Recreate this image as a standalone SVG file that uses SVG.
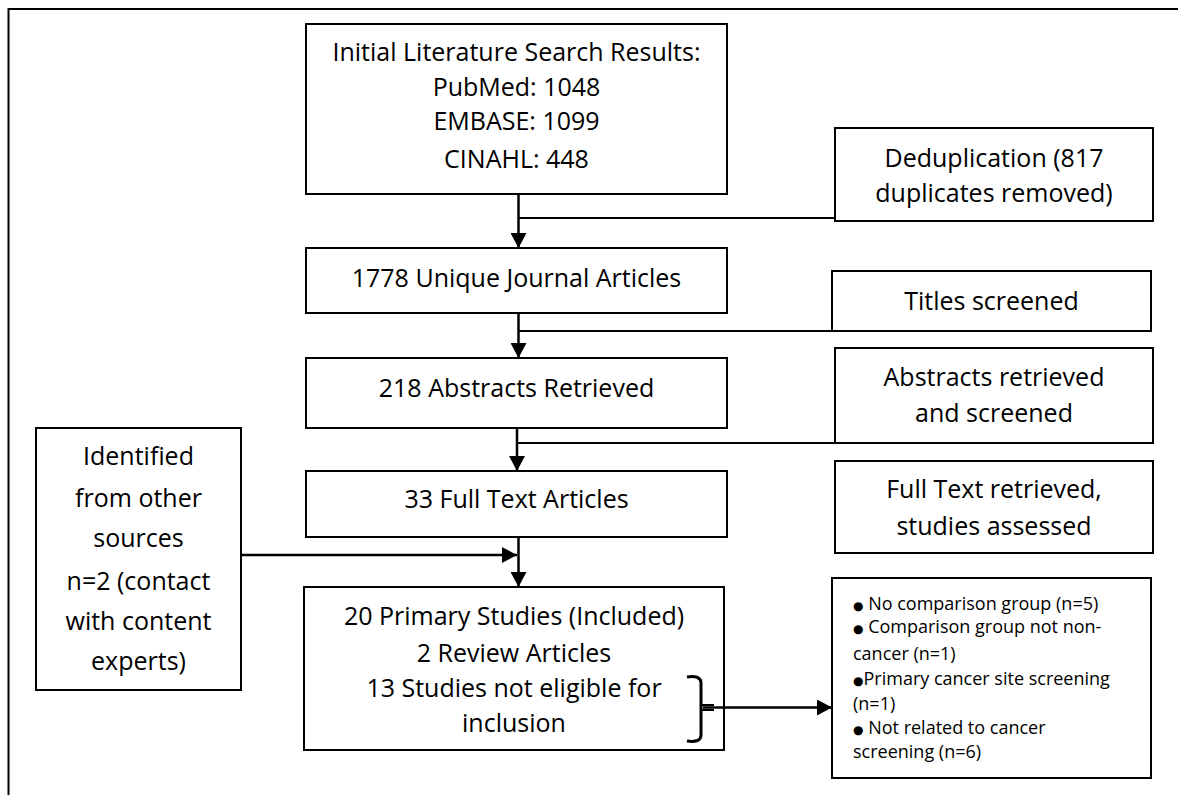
<svg xmlns="http://www.w3.org/2000/svg" width="1178" height="795" viewBox="0 0 1178 795">
<style>
.box{fill:#fff;stroke:#000;stroke-width:2}
.t{font-family:"Open Sans","Liberation Sans",sans-serif;font-size:25px;fill:#000;text-anchor:middle}
.s{font-family:"Open Sans","Liberation Sans",sans-serif;font-size:18px;fill:#000}
.b{font-family:"DejaVu Sans",sans-serif;font-size:12px}
.ln{fill:none;stroke:#000;stroke-width:2}
.ar{fill:none;stroke:#000;stroke-width:2.5}
</style>
<defs>
<marker id="ah" markerUnits="userSpaceOnUse" markerWidth="16" markerHeight="16" viewBox="0 0 16 16" refX="15" refY="8" orient="auto">
<path d="M0,0 L15,8 L0,16 Z" fill="#000"/>
</marker>
</defs>
<path class="ln" d="M8.5,795 L8.5,9 L1178,9"/>
<g id="n1"><rect class="box" x="306" y="24" width="421" height="170"/>
<text class="t" x="516.5" y="61">Initial Literature Search Results:</text>
<text class="t" x="516.5" y="96">PubMed: 1048</text>
<text class="t" x="516.5" y="130">EMBASE: 1099</text>
<text class="t" x="516.5" y="168">CINAHL: 448</text></g>
<g id="n2"><rect class="box" x="835" y="128" width="318" height="93"/>
<text class="t" x="994" y="167">Deduplication (817</text>
<text class="t" x="994" y="202">duplicates removed)</text></g>
<g id="n3"><rect class="box" x="306" y="248" width="421" height="65"/>
<text class="t" x="516.5" y="287">1778 Unique Journal Articles</text></g>
<g id="n4"><rect class="box" x="832" y="271" width="319" height="60"/>
<text class="t" x="991.5" y="310">Titles screened</text></g>
<g id="n5"><rect class="box" x="306" y="358" width="421" height="70"/>
<text class="t" x="516.5" y="397">218 Abstracts Retrieved</text></g>
<g id="n6"><rect class="box" x="835" y="348" width="318" height="95"/>
<text class="t" x="994" y="386">Abstracts retrieved</text>
<text class="t" x="994" y="422">and screened</text></g>
<g id="n7"><rect class="box" x="306" y="471" width="421" height="66"/>
<text class="t" x="516.5" y="508">33 Full Text Articles</text></g>
<g id="n8"><rect class="box" x="835" y="461" width="318" height="92"/>
<text class="t" x="994" y="498">Full Text retrieved,</text>
<text class="t" x="994" y="535">studies assessed</text></g>
<g id="n9"><rect class="box" x="36" y="428" width="205" height="262"/>
<text class="t" x="138.5" y="465">Identified</text>
<text class="t" x="138.5" y="507">from other</text>
<text class="t" x="138.5" y="547">sources</text>
<text class="t" x="138.5" y="590">n=2 (contact</text>
<text class="t" x="138.5" y="630">with content</text>
<text class="t" x="138.5" y="670">experts)</text></g>
<g id="n10"><rect class="box" x="304" y="587" width="420" height="163"/>
<text class="t" x="514" y="625">20 Primary Studies (Included)</text>
<text class="t" x="514" y="662">2 Review Articles</text>
<text class="t" x="514" y="697">13 Studies not eligible for</text>
<text class="t" x="514" y="732">inclusion</text></g>
<g id="n11"><rect class="box" x="832" y="578" width="319" height="200"/>
<text class="s" x="853" y="610"><tspan class="b">●</tspan> No comparison group (n=5)</text>
<text class="s" x="853" y="633"><tspan class="b">●</tspan> Comparison group not non-</text>
<text class="s" x="853" y="660">cancer (n=1)</text>
<text class="s" x="853" y="685"><tspan class="b">●</tspan>Primary cancer site screening</text>
<text class="s" x="853" y="710">(n=1)</text>
<text class="s" x="853" y="734"><tspan class="b">●</tspan> Not related to cancer</text>
<text class="s" x="853" y="758">screening (n=6)</text></g>
<g id="connectors">
<line class="ar" x1="518.5" y1="194" x2="518.5" y2="248" marker-end="url(#ah)"/>
<line class="ln" x1="518.5" y1="218" x2="835" y2="218"/>
<line class="ar" x1="518.5" y1="313" x2="518.5" y2="358" marker-end="url(#ah)"/>
<line class="ln" x1="518.5" y1="331" x2="832" y2="331"/>
<line class="ar" x1="517" y1="428" x2="517" y2="471" marker-end="url(#ah)"/>
<line class="ln" x1="517" y1="443" x2="835" y2="443"/>
<line class="ar" x1="518.5" y1="537" x2="518.5" y2="587" marker-end="url(#ah)"/>
<line class="ar" x1="241" y1="555" x2="517" y2="555" marker-end="url(#ah)"/>
<path d="M687,677 Q701,675 701,683 L701,735 Q701,743 687,741" fill="none" stroke="#000" stroke-width="3"/>
<path d="M701,705 L714,705 M701,710 L714,710" fill="none" stroke="#000" stroke-width="2"/>
<line class="ar" x1="703" y1="707.5" x2="832" y2="707.5" marker-end="url(#ah)"/>
</g>
</svg>
